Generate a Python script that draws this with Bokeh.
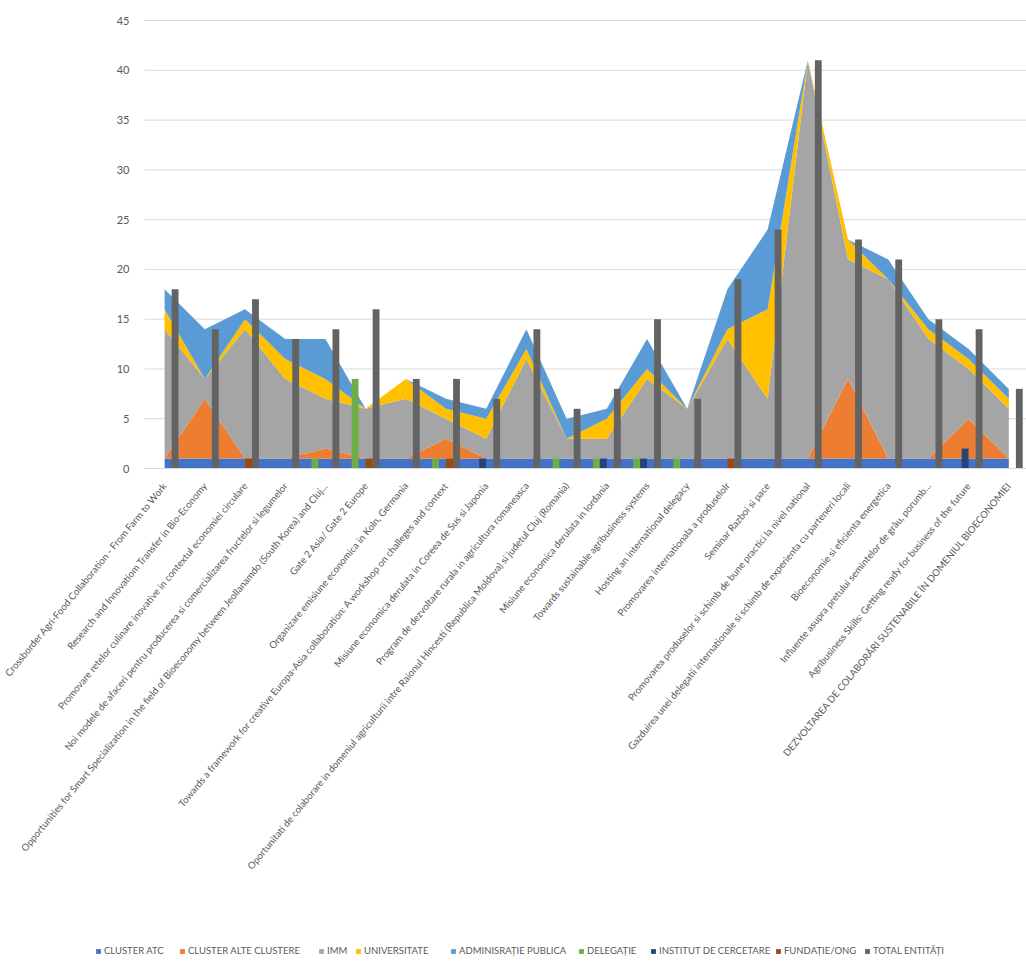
from bokeh.plotting import figure
from bokeh.models import ColumnDataSource, FixedTicker, Legend, LegendItem, Range1d
from bokeh.transform import dodge
from bokeh.embed import file_html
from bokeh.resources import INLINE

categories = [
    "Crossborder Agri-Food Collaboration - From Farm to Work",
    "Research and Innovatiom Transfer in Bio-Economy",
    "Promovare retelor culinare inovative in contextul economiei circulare",
    "Noi modele de afaceri pentru producerea si comercializarea fructelor si legumelor",
    "Opportunities for Smart Specialization in the field of Bioeconomy between Jeollanamdo (South Korea) and Cluj...",
    "Gate 2 Asia/ Gate 2 Europe",
    "Organizare emisiune economica in Koln, Germania",
    "Towards a framework for creative Europa-Asia collaboration: A workshop on challeges and context",
    "Misiune economica derulata in Coreea de Sus si Japonia",
    "Program de dezvoltare rurala in agricultura romaneasca",
    "Oportunitati de colaborare in domeniul agriculturii intre Raionul Hincesti (Republica Moldova) si judetul Cluj (Romania)",
    "Misiune economica derulata in Iordania",
    "Towards sustainable agribusiness systems",
    "Hosting an international delegacy",
    "Promovarea internationala a produselolr",
    "Seminar Razboi si pace",
    "Promovarea produselor si schimb de bune practici la nivel national",
    "Gazduirea unei delegatii internationale si schimb de experienta cu parteneri locali",
    "Bioeconomie si eficienta energetica",
    "Influente asupra pretului semintelor de grâu, porumb...",
    "Agribusiness Skills: Getting ready for business of the future",
    "DEZVOLTAREA DE COLABORĂRI SUSTENABILE ÎN DOMENIUL BIOECONOMIEI",
]

cluster_atc = [1, 1, 1, 1, 1, 1, 1, 1, 1, 1, 1, 1, 1, 1, 1, 1, 1, 1, 1, 1, 1, 1]
cluster_alte = [0, 6, 0, 0, 1, 0, 0, 2, 0, 0, 0, 0, 0, 0, 0, 0, 0, 8, 0, 0, 4, 0]
imm = [13, 2, 13, 8, 5, 5, 6, 2, 2, 10, 2, 2, 8, 5, 12, 6, 40, 12, 18, 12, 5, 5]
universitate = [2, 0, 1, 2, 2, 0, 2, 1, 2, 1, 0, 2, 1, 0, 1, 9, 0, 2, 0, 1, 1, 1]
administratie = [2, 5, 1, 2, 4, 0, 0, 1, 1, 2, 2, 1, 3, 0, 4, 8, 0, 0, 2, 1, 1, 1]
delegatie = [0, 0, 0, 0, 1, 9, 0, 1, 0, 0, 1, 1, 1, 1, 0, 0, 0, 0, 0, 0, 0, 0]
institut = [0, 0, 0, 0, 0, 0, 0, 0, 1, 0, 0, 1, 1, 0, 0, 0, 0, 0, 0, 0, 2, 0]
fundatie = [0, 0, 1, 0, 0, 1, 0, 1, 0, 0, 0, 0, 0, 0, 1, 0, 0, 0, 0, 0, 0, 0]
total = [18, 14, 17, 13, 14, 16, 9, 9, 7, 14, 6, 8, 15, 7, 19, 24, 41, 23, 21, 15, 14, 8]

y_ticks = [0, 5, 10, 15, 20, 25, 30, 35, 40, 45]
series_names = ["CLUSTER ATC", "CLUSTER ALTE CLUSTERE", "IMM", "UNIVERSITATE",
                "ADMINISRAȚIE PUBLICA", "DELEGAȚIE", "INSTITUT DE CERCETARE",
                "FUNDAȚIE/ONG", "TOTAL ENTITĂȚI"]
colors = ["#4472C4", "#ED7D31", "#A5A5A5", "#FFC000", "#5B9BD5",
          "#70AD47", "#264478", "#9E480E", "#636363"]
legend_x = [95, 179, 318, 355, 450, 578, 650, 775, 864]

xs = list(range(len(categories)))
src = ColumnDataSource(dict(
    x=xs, atc=cluster_atc, alte=cluster_alte, imm=imm, univ=universitate,
    admin=administratie, deleg=delegatie, inst=institut, fund=fundatie, total=total))

FONT = "Lato"
TXT = "#595959"

# plot area: x=-0.5 at 144px, 40.2px per category; y=0 at 468px, 9.9556px per unit
X0, X1 = -4.082, 21.44
Y0, Y1 = -50.32, 47.01

p = figure(width=1026, height=969, x_range=Range1d(X0, X1), y_range=Range1d(Y0, Y1),
           output_backend="svg", toolbar_location=None,
           min_border_left=0, min_border_right=0, min_border_top=0, min_border_bottom=0)
p.outline_line_color = None
p.grid.visible = False

# horizontal gridlines restricted to the plot area
p.segment(x0=-0.5, x1=X1, y0=y_ticks, y1=y_ticks, line_color="#D9D9D9", line_width=1)

areas = p.varea_stack(stackers=["atc", "alte", "imm", "univ", "admin"], x="x",
                      color=colors[:5], source=src)

bw = 0.17
step = 0.174
b1 = p.vbar(x=dodge("x", -1.5 * step), top="deleg", width=bw, color=colors[5], line_color=None, source=src)
b2 = p.vbar(x=dodge("x", -0.5 * step), top="inst", width=bw, color=colors[6], line_color=None, source=src)
b3 = p.vbar(x=dodge("x", 0.5 * step), top="fund", width=bw, color=colors[7], line_color=None, source=src)
b4 = p.vbar(x=dodge("x", 1.5 * step), top="total", width=bw, color=colors[8], line_color=None, source=src)

p.xaxis.fixed_location = 0
p.xaxis.bounds = (-0.5, X1)
p.xaxis.ticker = FixedTicker(ticks=xs)
p.xaxis.major_label_overrides = {i: c for i, c in enumerate(categories)}
p.xaxis.major_label_orientation = 0.88
p.xaxis.major_tick_line_color = None
p.xaxis.minor_tick_line_color = None
p.xaxis.axis_line_color = "#D9D9D9"
p.xaxis.major_label_standoff = 9
p.xaxis.major_label_text_font = FONT
p.xaxis.major_label_text_font_size = "9.7px"
p.xaxis.major_label_text_color = TXT

p.yaxis.fixed_location = -0.5
p.yaxis.ticker = FixedTicker(ticks=y_ticks)
p.yaxis.axis_line_color = None
p.yaxis.major_tick_line_color = None
p.yaxis.minor_tick_line_color = None
p.yaxis.major_label_standoff = 9
p.yaxis.major_label_text_font = FONT
p.yaxis.major_label_text_font_size = "11px"
p.yaxis.major_label_text_color = TXT

renderers = list(areas) + [b1, b2, b3, b4]
for name, r, lx in zip(series_names, renderers, legend_x):
    lg = Legend(items=[LegendItem(label=name, renderers=[r])], location=(lx, 13),
                label_text_font=FONT, label_text_font_size="9.5px", label_text_color=TXT,
                glyph_width=6, glyph_height=6, label_standoff=3,
                padding=0, margin=0, border_line_color=None, background_fill_alpha=0)
    p.add_layout(lg)

open("out.html", "w").write(file_html(p, INLINE))
